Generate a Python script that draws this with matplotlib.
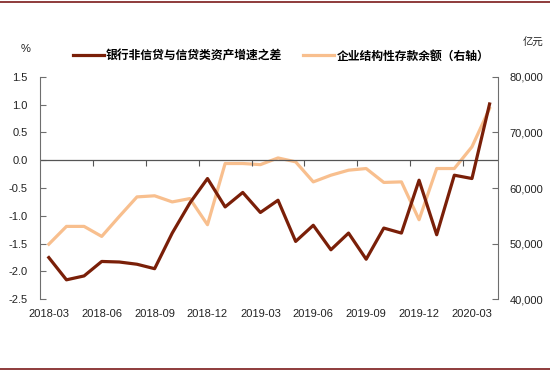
import numpy as np
import matplotlib
matplotlib.use('Agg')
import matplotlib.pyplot as plt

plt.rcParams['font.family'] = ['Liberation Sans', 'Noto Sans CJK SC']

months = ['2018-03', '2018-04', '2018-05', '2018-06', '2018-07', '2018-08', '2018-09',
          '2018-10', '2018-11', '2018-12', '2019-01', '2019-02', '2019-03', '2019-04',
          '2019-05', '2019-06', '2019-07', '2019-08', '2019-09', '2019-10', '2019-11',
          '2019-12', '2020-01', '2020-02', '2020-03', '2020-04']

# 银行非信贷与信贷类资产增速之差 (%)
spread = [-1.75, -2.15, -2.08, -1.82, -1.83, -1.87, -1.95, -1.31, -0.77, -0.33,
          -0.84, -0.58, -0.94, -0.72, -1.46, -1.17, -1.61, -1.31, -1.78, -1.22,
          -1.31, -0.36, -1.34, -0.27, -0.33, 1.01]

# 企业结构性存款余额 (亿元)
deposits = [49900, 53100, 53100, 51300, 54900, 58400, 58600, 57500, 58100, 53400,
            64400, 64400, 64200, 65400, 64700, 61100, 62300, 63200, 63500, 61000,
            61100, 54300, 63500, 63500, 67400, 74300]

label_names = ['银行非信贷与信贷类资产增速之差', '企业结构性存款余额（右轴）']

dark = '#7a1f08'
light = '#f8bf8e'
axis_gray = '#6e6e6e'

fig = plt.figure(figsize=(5.5, 3.71), dpi=100)
ax = fig.add_axes([40 / 550, 1 - 299.3 / 371, 458.4 / 550, 222.6 / 371])
ax2 = ax.twinx()

x = np.arange(len(months))
l1, = ax.plot(x, spread, color=dark, lw=2.3, solid_joinstyle='round', zorder=3)
l2, = ax2.plot(x, deposits, color=light, lw=2.3, solid_joinstyle='round', zorder=3)
ax.set_zorder(ax2.get_zorder() + 1)
ax.patch.set_visible(False)

ax.set_xlim(-0.5, len(months) - 0.5)
ax.set_ylim(-2.5, 1.5)
ax.set_yticks(np.arange(-2.5, 1.51, 0.5))
ax.set_yticklabels(['%.1f' % v for v in np.arange(-2.5, 1.51, 0.5)])
ax2.set_ylim(40000, 80000)
ax2.set_yticks(np.arange(40000, 80001, 10000))
ax2.set_yticklabels(['{:,}'.format(v) for v in range(40000, 80001, 10000)])

ax.set_xticks(x[::3])
ax.set_xticklabels(months[::3])
ax.tick_params(axis='x', length=0, pad=7, labelsize=8, colors='#222222')
ax.tick_params(axis='y', direction='in', length=4, pad=9, labelsize=8,
               color=axis_gray, labelcolor='#222222')
ax2.tick_params(axis='y', direction='in', length=4, pad=8, labelsize=8,
                color=axis_gray, labelcolor='#222222')

for a in (ax, ax2):
    for s in ('top', 'bottom'):
        a.spines[s].set_visible(False)
    a.spines['left'].set_visible(False)
    a.spines['right'].set_visible(False)
ax.spines['left'].set_visible(True)
ax.spines['left'].set_color(axis_gray)
ax2.spines['right'].set_visible(True)
ax2.spines['right'].set_color(axis_gray)

# zero line with quarter ticks
ax.axhline(0, color='#555555', lw=0.9, zorder=2)
sec = ax.secondary_xaxis(2.5 / 4.0)
sec.set_xticks(np.arange(2.5, len(months) - 1, 3))
sec.set_xticklabels([])
sec.tick_params(direction='in', length=4, color='#555555')
sec.spines['bottom'].set_visible(False)
sec.spines['top'].set_visible(False)

fig.legend([l1, l2], label_names, loc='center', ncol=2,
           bbox_to_anchor=(281 / 550, 1 - 56 / 371), frameon=False,
           handlelength=2.6, handletextpad=0.2, columnspacing=1.8,
           prop={'family': ['Noto Sans CJK SC'], 'weight': 'bold', 'size': 8.5})

fig.text(26 / 550, 1 - 49 / 371, '%', ha='center', va='center', fontsize=8, color='#222222')
fig.text(533 / 550, 1 - 43 / 371, '亿元', ha='center', va='center', fontsize=7.5,
         color='#222222', family=['Noto Sans CJK SC'])

# frame lines top and bottom
fig.add_artist(plt.Line2D([0, 1], [1 - 2 / 371, 1 - 2 / 371], color='#7b1a1a', lw=1.2))
fig.add_artist(plt.Line2D([0, 1], [1 - 368.5 / 371, 1 - 368.5 / 371], color='#7b1a1a', lw=1.2))

fig.savefig('out.png', dpi=100)
